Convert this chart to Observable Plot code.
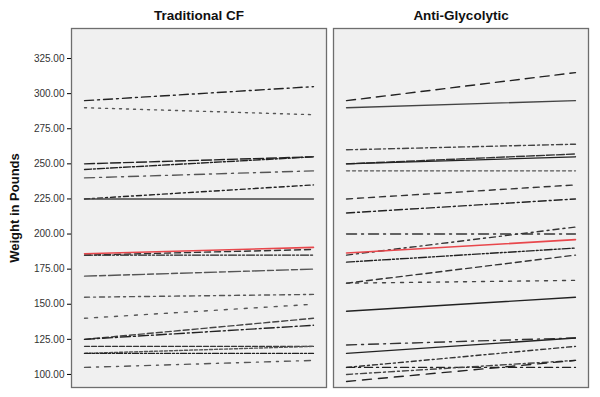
<!DOCTYPE html>
<html>
<head>
<meta charset="utf-8">
<script src="https://cdn.jsdelivr.net/npm/d3@7"></script>
<script src="https://cdn.jsdelivr.net/npm/@observablehq/plot@0.6"></script>
<style>
  html, body { margin: 0; padding: 0; background: #fff; }
  #chart { width: 600px; height: 397px; }
</style>
</head>
<body>
<div id="chart"></div>
<script>
// ---- data ----
const groups = ["Traditional CF", "Anti-Glycolytic"];
const timePoints = [0, 1];
const tradPre  = [295, 290, 250, 246, 240, 225, 225, 185, 185, 170, 155, 140, 125, 125, 120, 115, 115, 105];
const tradPost = [305, 285, 255, 255, 245, 235, 225, 185, 189, 175, 157, 150, 140, 135, 120, 120, 115, 110];
const antiPre  = [295, 290, 260, 250, 250, 245, 225, 215, 200, 185, 180, 165, 165, 145, 121, 115, 105, 105, 100, 95];
const antiPost = [315, 295, 264, 257, 255, 245, 235, 225, 200, 205, 190, 185, 167, 155, 126, 126, 120, 105, 110, 110];
const tradMean = [186, 190.5];
const antiMean = [186.5, 196];
const yTicks = [100, 125, 150, 175, 200, 225, 250, 275, 300, 325];

// ---- styles (not data) ----
const tradStyles = [
  ["#222", "9,4,2,4"], ["#555", "2,5"], ["#222", "10,3"], ["#222", "7,2,2,2"],
  ["#555", "10,5,2,5"], ["#222", "5,3,2,3"], ["#444", null], ["#222", "8,2,2,2,2,2"],
  ["#333", "6,4"], ["#555", "12,3,6,3"], ["#555", "5,4,2,4"], ["#555", "3,7"],
  ["#444", "6,3"], ["#222", "10,3,2,3"], ["#333", "5,2"], ["#555", "3,2"],
  ["#222", "6,2,2,2,2,2"], ["#555", "6,6,2,6"]
];
const antiStyles = [
  ["#222", "9,6"], ["#444", null], ["#444", "6,3,2,3"], ["#333", "8,2"],
  ["#222", null], ["#555", "3,3"], ["#333", "6,5"], ["#222", "8,3,2,3"],
  ["#333", "10,5,2,5"], ["#333", "6,4,2,4"], ["#222", "8,2,2,2,2,2"], ["#333", "6,4"],
  ["#444", "3,6"], ["#222", null], ["#333", "10,5,2,5"], ["#222", null],
  ["#333", "5,3,2,3"], ["#222", "8,4,2,4"], ["#444", "6,3,2,3"], ["#222", "9,7"]
];

function subjectRows(group, pre, post) {
  return pre.map((p, i) => timePoints.map((t, k) => ({group, t, w: k === 0 ? p : post[i], id: i})));
}
const tradRows = subjectRows(groups[0], tradPre, tradPost);
const antiRows = subjectRows(groups[1], antiPre, antiPost);
const meanRows = [
  ...timePoints.map((t, k) => ({group: groups[0], t, w: tradMean[k]})),
  ...timePoints.map((t, k) => ({group: groups[1], t, w: antiMean[k]}))
];

const lineMarks = [];
tradRows.forEach((rows, i) => {
  const [c, d] = tradStyles[i];
  lineMarks.push(Plot.line(rows, {x: "t", y: "w", fx: "group", stroke: c, strokeWidth: 1.4, strokeDasharray: d || undefined}));
});
antiRows.forEach((rows, i) => {
  const [c, d] = antiStyles[i];
  lineMarks.push(Plot.line(rows, {x: "t", y: "w", fx: "group", stroke: c, strokeWidth: 1.4, strokeDasharray: d || undefined}));
});

const chart = Plot.plot({
  width: 600,
  height: 397,
  marginLeft: 70,
  marginRight: 12,
  marginTop: 28,
  marginBottom: 10,
  style: {fontFamily: "'Liberation Sans', Arial, sans-serif", background: "#fff"},
  fx: {domain: groups, paddingInner: 0.027, paddingOuter: 0},
  x: {domain: [-0.057, 1.057], axis: null},
  y: {domain: [90.7, 346.4]},
  marks: [
    Plot.frame({fill: "#f0f0f0", stroke: "#6e6e6e", strokeWidth: 1.3}),
    ...lineMarks,
    Plot.line(meanRows, {x: "t", y: "w", fx: "group", stroke: "#e8474c", strokeWidth: 1.6}),
    Plot.axisFx({anchor: "top", label: null, tickSize: 0, tickPadding: 9, fontSize: 13.5, fontWeight: "bold", fill: "#111"}),
    Plot.axisY({ticks: yTicks, tickFormat: d => d.toFixed(2), tickSize: 4, tickPadding: 3, fontSize: 10, fill: "#333", label: null})
  ]
});

document.getElementById("chart").appendChild(chart);
d3.select(chart).append("text")
  .attr("transform", "translate(19,208) rotate(-90)")
  .attr("text-anchor", "middle")
  .attr("font-family", "'Liberation Sans', Arial, sans-serif")
  .attr("font-size", 13)
  .attr("font-weight", "bold")
  .attr("fill", "#111")
  .text("Weight in Pounds");
</script>
</body>
</html>
